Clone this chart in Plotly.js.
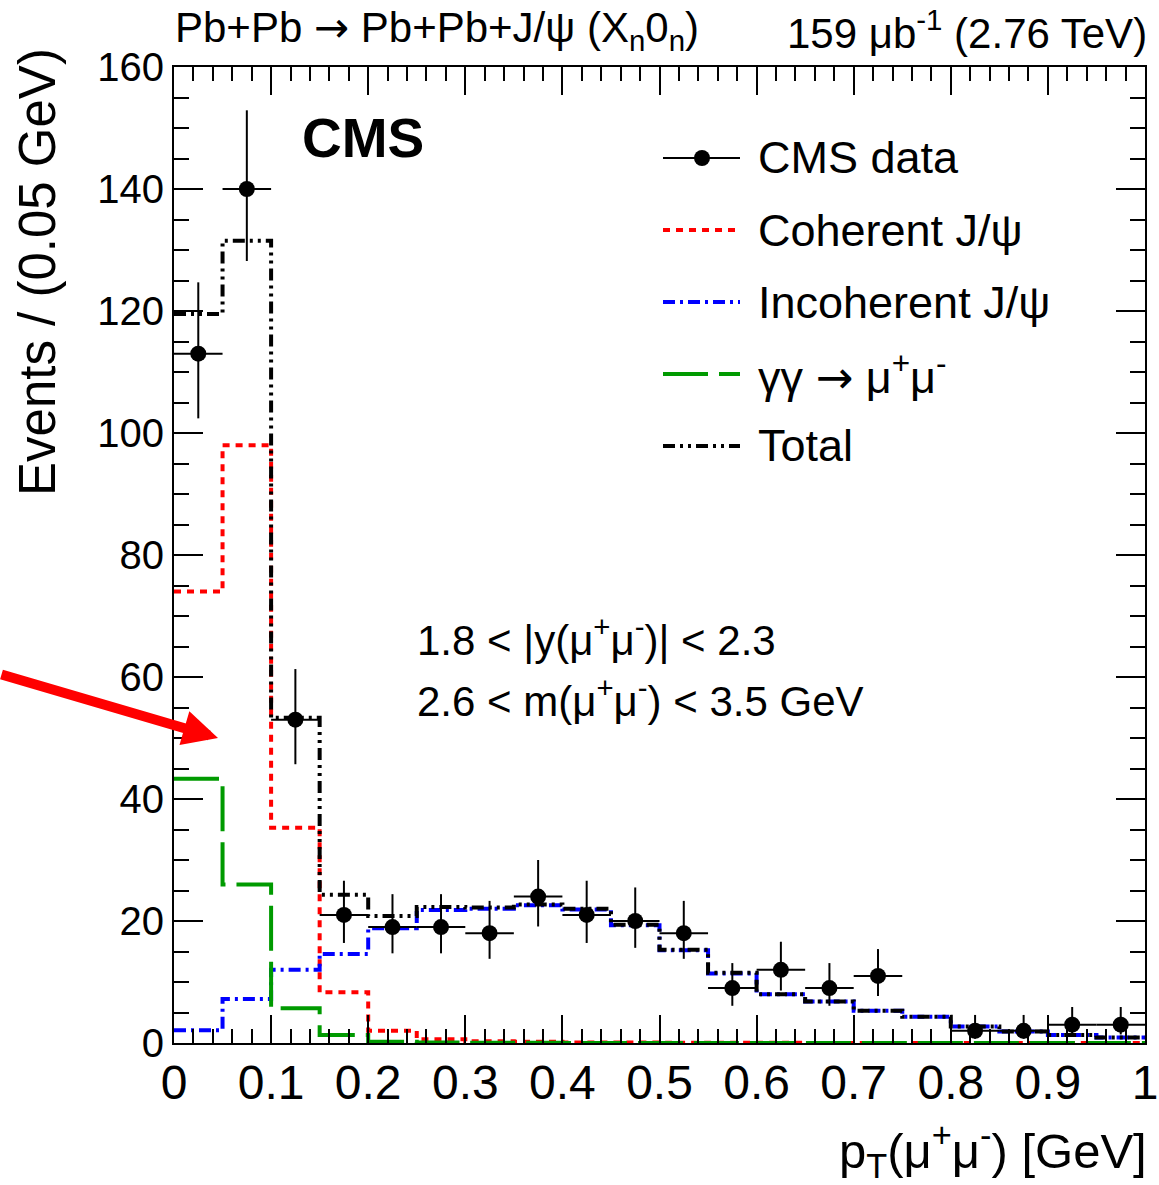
<!DOCTYPE html>
<html>
<head>
<meta charset="utf-8">
<script src="https://cdn.plot.ly/plotly-3.0.1.min.js"></script>
<style>html,body{margin:0;padding:0;background:#fff;}#chart{width:1159px;height:1185px;}</style>
</head>
<body>
<div id="chart"></div>
<script>
// ---- data ----
var binEdges = [0,0.05,0.1,0.15,0.2,0.25,0.3,0.35,0.4,0.45,0.5,0.55,0.6,0.65,0.7,0.75,0.8,0.85,0.9,0.95,1.0];
var binCenters = [0.025,0.075,0.125,0.175,0.225,0.275,0.325,0.375,0.425,0.475,0.525,0.575,0.625,0.675,0.725,0.775,0.825,0.875,0.925,0.975];

var dataCounts = [113,140,53,21,19,19,18,24,21,20,18,9,12,9,11,null,2,2,3,3];
var dataErrUp  = [11.7,12.9,8.3,5.6,5.4,5.4,5.3,6.0,5.6,5.5,5.3,4.1,4.6,4.1,4.4,null,2.6,2.6,2.9,2.9];
var dataErrLow = [10.6,11.8,7.3,4.6,4.3,4.3,4.2,4.9,4.6,4.4,4.2,2.9,3.4,2.9,3.3,null,1.3,1.3,1.6,1.6];

var coherent   = [74,98,35.3,8.3,2.0,0.6,0.3,0.2,0.1,0.1,0.05,0.05,0.05,0,0,0,0,0,0,0];
var incoherent = [2.1,7.2,12.0,14.6,18.8,21.8,22.0,22.6,21.9,19.3,15.2,11.4,8.0,6.8,5.3,4.3,2.7,1.9,1.3,0.9];
var gammagamma = [43.3,26,5.7,1.3,0.2,0.1,0.05,0.05,0.02,0.02,0.01,0.01,0.01,0.01,0,0,0,0,0,0];
var total      = [119.5,131.5,53.3,24.3,20.8,22.3,22.2,22.7,22.0,19.4,15.3,11.5,8.0,6.8,5.3,4.3,2.7,1.9,1.3,0.9];

var xTickVals = [0,0.1,0.2,0.3,0.4,0.5,0.6,0.7,0.8,0.9,1];
var xTickText = ['0','0.1','0.2','0.3','0.4','0.5','0.6','0.7','0.8','0.9','1'];
var yTickVals = [0,20,40,60,80,100,120,140,160];

var ARROW = '<span style="font-family:DejaVu Sans">→</span>';
var legendNames = ['CMS data','Coherent J/ψ','Incoherent J/ψ','γγ ' + ARROW + ' μ<sup>+</sup>μ<sup>-</sup>','Total'];

// ---- styles ----
var cRed = '#ff0000', cBlue = '#0000ff', cGreen = '#009a00', cBlack = '#000000';
var dashRed = '7px,6px';
var dashBlue = '12px,5px,3px,5px';
var dashGreen = '45px,11px';
var dashBlack = '12px,5px,3px,5px,3px,5px';
var LW = 4;
var FONT = 'Liberation Sans, Arial, Helvetica, sans-serif';

function stepY(v){ return v.concat([v[v.length-1]]); }
function histTrace(vals, color, dash){
  return {x: binEdges, y: stepY(vals), type:'scatter', mode:'lines',
          line:{shape:'hv', color:color, dash:dash, width:LW}, showlegend:false, hoverinfo:'skip'};
}

var traces = [
  histTrace(coherent, cRed, dashRed),
  histTrace(incoherent, cBlue, dashBlue),
  histTrace(gammagamma, cGreen, dashGreen),
  histTrace(total, cBlack, dashBlack),
  {x: binCenters, y: dataCounts, type:'scatter', mode:'markers',
   marker:{color:'#000', size:16, symbol:'circle'},
   error_y:{type:'data', symmetric:false, array:dataErrUp, arrayminus:dataErrLow, thickness:2, width:0, color:'#000'},
   error_x:{type:'constant', value:0.025, thickness:2, width:0, color:'#000'},
   showlegend:false, cliponaxis:false}
];

// pixel -> paper helpers (plot area: x 174..1145, y 67..1043)
function px(p){ return (p-174)/971; }
function py(p){ return (1043-p)/976; }

var shapes = [];
var annotations = [];

// manual legend
var legY = [158,230,302,374,446];
var legStyles = [
  {color:cBlack, dash:'solid', width:2},
  {color:cRed, dash:dashRed, width:LW},
  {color:cBlue, dash:dashBlue, width:LW},
  {color:cGreen, dash:dashGreen, width:LW},
  {color:cBlack, dash:dashBlack, width:LW}
];
for (var i=0;i<legY.length;i++){
  shapes.push({type:'line', xref:'paper', yref:'paper', x0:px(663), x1:px(740), y0:py(legY[i]), y1:py(legY[i]),
               line:{color:legStyles[i].color, dash:legStyles[i].dash, width:legStyles[i].width}});
  annotations.push({xref:'paper', yref:'paper', x:px(756), y:py(legY[i]), xanchor:'left', yanchor:'middle',
                    text:legendNames[i], showarrow:false, font:{family:FONT, size:45, color:'#000'}});
}
shapes.push({type:'circle', xref:'paper', yref:'paper', x0:px(694), x1:px(710), y0:py(150), y1:py(166),
             fillcolor:'#000', line:{color:'#000', width:0}});

// texts
annotations.push({xref:'paper', yref:'paper', x:px(300), y:py(138), xanchor:'left', yanchor:'middle',
  text:'<b>CMS</b>', showarrow:false, font:{family:FONT, size:55, color:'#000'}});
annotations.push({xref:'paper', yref:'paper', x:px(415), y:py(637), xanchor:'left', yanchor:'middle',
  text:'1.8 < |y(μ<sup>+</sup>μ<sup>-</sup>)| < 2.3', showarrow:false, font:{family:FONT, size:42, color:'#000'}});
annotations.push({xref:'paper', yref:'paper', x:px(415), y:py(698), xanchor:'left', yanchor:'middle',
  text:'2.6 < m(μ<sup>+</sup>μ<sup>-</sup>) < 3.5 GeV', showarrow:false, font:{family:FONT, size:42, color:'#000'}});
annotations.push({xref:'paper', yref:'paper', x:px(173), y:py(30), xanchor:'left', yanchor:'middle',
  text:'Pb+Pb&nbsp;' + ARROW + '&nbsp;Pb+Pb+J/ψ (X<sub>n</sub>0<sub>n</sub>)', showarrow:false, font:{family:FONT, size:42, color:'#000'}});
annotations.push({xref:'paper', yref:'paper', x:px(1149), y:py(30), xanchor:'right', yanchor:'middle',
  text:'159 μb<sup>-1</sup> (2.76 TeV)', showarrow:false, font:{family:FONT, size:42, color:'#000'}});
annotations.push({xref:'paper', yref:'paper', x:px(1149), y:py(1150), xanchor:'right', yanchor:'middle',
  text:'p<sub>T</sub>(μ<sup>+</sup>μ<sup>-</sup>) [GeV]', showarrow:false, font:{family:FONT, size:49, color:'#000'}});
annotations.push({xref:'paper', yref:'paper', x:px(38), y:py(46), xanchor:'center', yanchor:'top', textangle:-90,
  text:'Events / (0.05 GeV)', showarrow:false, font:{family:FONT, size:51, color:'#000'}});
// red arrow
annotations.push({xref:'paper', yref:'paper', x:px(218), y:py(738), ax:-222, ay:-64, axref:'pixel', ayref:'pixel',
  text:'', showarrow:true, arrowhead:2, arrowsize:0.7, arrowwidth:10, arrowcolor:cRed, standoff:0});

var layout = {
  width:1159, height:1185,
  margin:{l:174, r:14, t:67, b:142},
  paper_bgcolor:'#fff', plot_bgcolor:'#fff',
  showlegend:false,
  font:{family:FONT, color:'#000'},
  xaxis:{range:[0,1], tickvals:xTickVals, ticktext:xTickText, ticks:'inside', ticklen:28, tickwidth:2, tickcolor:'#000',
         minor:{dtick:0.02, ticks:'inside', ticklen:14, tickwidth:2, tickcolor:'#000', showgrid:false},
         showline:true, linewidth:2, linecolor:'#000', mirror:'allticks', showgrid:false, zeroline:false,
         tickfont:{family:FONT, size:48, color:'#000'}, ticklabelstandoff:-4, fixedrange:true},
  yaxis:{range:[0,160], tickvals:yTickVals, ticks:'inside', ticklen:29, tickwidth:2, tickcolor:'#000',
         minor:{dtick:5, ticks:'inside', ticklen:15, tickwidth:2, tickcolor:'#000', showgrid:false},
         showline:true, linewidth:2, linecolor:'#000', mirror:'allticks', showgrid:false, zeroline:false,
         tickfont:{family:FONT, size:40, color:'#000'}, ticklabelstandoff:0, fixedrange:true},
  shapes:shapes,
  annotations:annotations
};

Plotly.newPlot('chart', traces, layout, {staticPlot:true, displayModeBar:false});
</script>
</body>
</html>
